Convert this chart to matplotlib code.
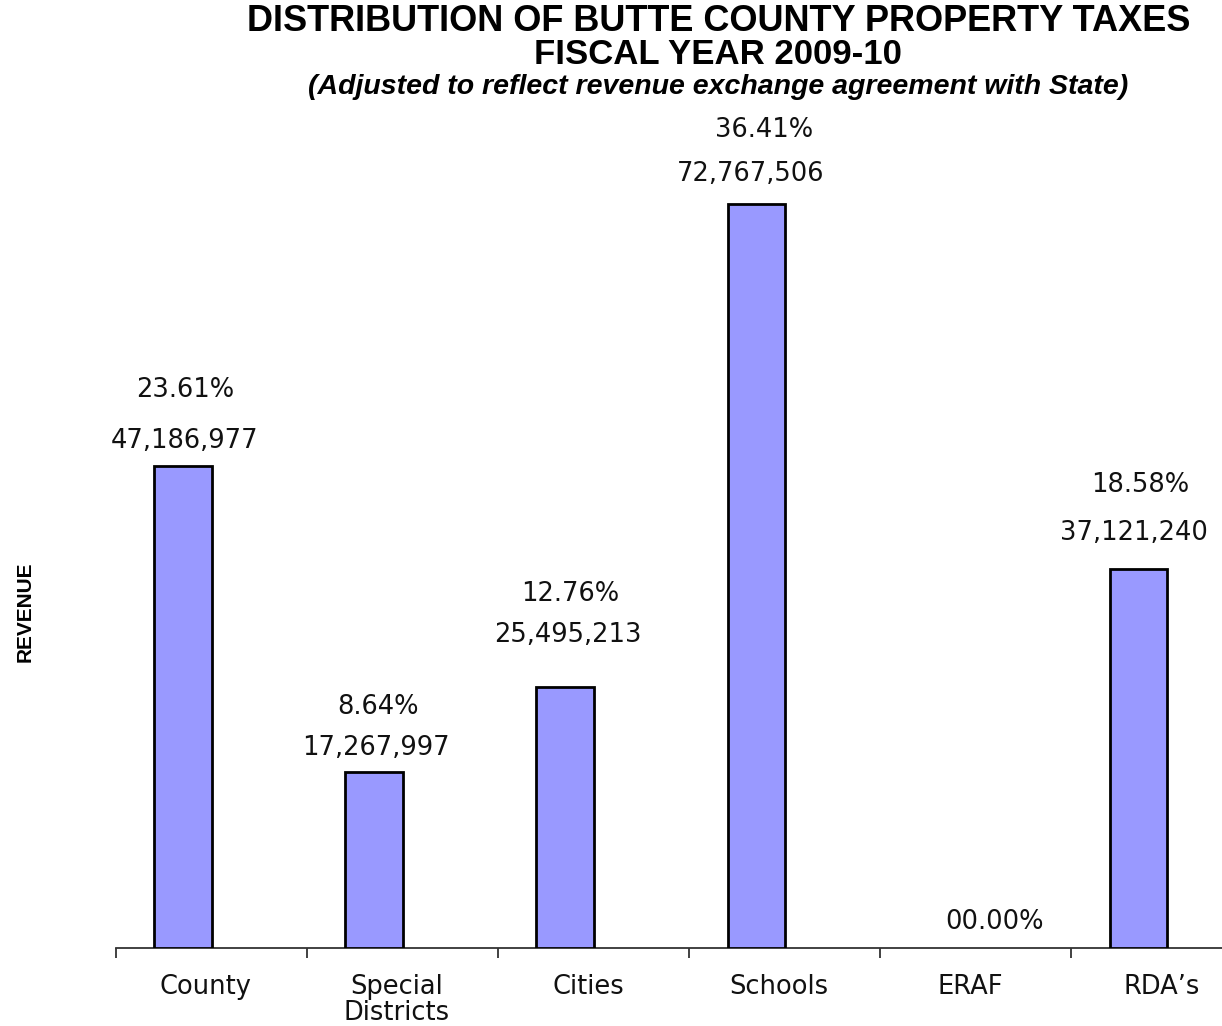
import matplotlib
matplotlib.use("Agg")
import matplotlib.pyplot as plt
from matplotlib.ticker import FixedLocator

categories = ["County", "Special\nDistricts", "Cities", "Schools", "ERAF", "RDA\u2019s"]
values = [47186977, 17267997, 25495213, 72767506, 0, 37121240]
percents = ["23.61%", "8.64%", "12.76%", "36.41%", "00.00%", "18.58%"]

# label placement (pixels above bar top / horizontal nudge)
val_dy = [25, 24, 52, 30, None, 36]
val_dx = [1.5, 2, 3, -6, 0, -4]
pct_dy = [76, 65, 93, 74, 26, 84]
pct_dx = [2.5, 4, 5, 8, 47, 2]

W, H = 1222, 1026
fig = plt.figure(figsize=(W / 100, H / 100), dpi=100)
ax_left = 116 / W
ax_bottom = (H - 948) / H
ax_w = 6 * 191.1 / W
ymax = 80e6
ax_h = (ymax / 1e6 * 10.22) / H
ax = fig.add_axes([ax_left, ax_bottom, ax_w, ax_h])

x = list(range(len(categories)))
bx = [i - 0.15 for i in x]
lws = [2.0 if v > 0 else 0 for v in values]
ax.bar(bx, values, width=0.3, color="#9999FF", edgecolor="black", linewidth=lws, zorder=3)
ax.set_xlim(-0.5, 5.5)
ax.set_ylim(0, ymax)

font = "DejaVu Sans"
fs = 18.5
px = 0.72  # points per pixel
for i in x:
    if val_dy[i] is not None:
        ax.annotate(f"{values[i]:,}", (bx[i], values[i]), xytext=(val_dx[i] * px, val_dy[i] * px),
                    textcoords="offset points", ha="center", va="center", fontsize=fs,
                    family=font, color="#111111")
    ax.annotate(percents[i], (bx[i], values[i]), xytext=(pct_dx[i] * px, pct_dy[i] * px),
                textcoords="offset points", ha="center", va="center", fontsize=fs,
                family=font, color="#111111")

for s in ["left", "right", "top"]:
    ax.spines[s].set_visible(False)
ax.spines["bottom"].set_color("#333333")
ax.spines["bottom"].set_linewidth(1.3)
ax.set_yticks([])
ax.set_xticks([i - 0.03 for i in x])
ax.set_xticklabels(categories, fontsize=fs, family=font, color="#111111", linespacing=1.0)
ax.tick_params(axis="x", which="major", length=0, pad=19)
ax.xaxis.set_minor_locator(FixedLocator([i - 0.5 for i in range(7)]))
ax.tick_params(axis="x", which="minor", length=7, width=1.3, color="#333333", direction="out")

fig.text(719 / W, 1 - 22 / H, "DISTRIBUTION OF BUTTE COUNTY PROPERTY TAXES", ha="center", va="center",
         fontsize=26, fontweight="bold", family="Liberation Sans")
fig.text(718 / W, 1 - 55 / H, "FISCAL YEAR 2009-10", ha="center", va="center",
         fontsize=25, fontweight="bold", family="Liberation Sans")
fig.text(718 / W, 1 - 87 / H, "(Adjusted to reflect revenue exchange agreement with State)", ha="center",
         va="center", fontsize=20.5, fontweight="bold", style="italic", family="Liberation Sans")
fig.text(25 / W, 1 - 612 / H, "REVENUE", rotation=90, ha="center", va="center",
         fontsize=15, fontweight="bold", family="Liberation Sans")

fig.savefig("out.png", dpi=100)
